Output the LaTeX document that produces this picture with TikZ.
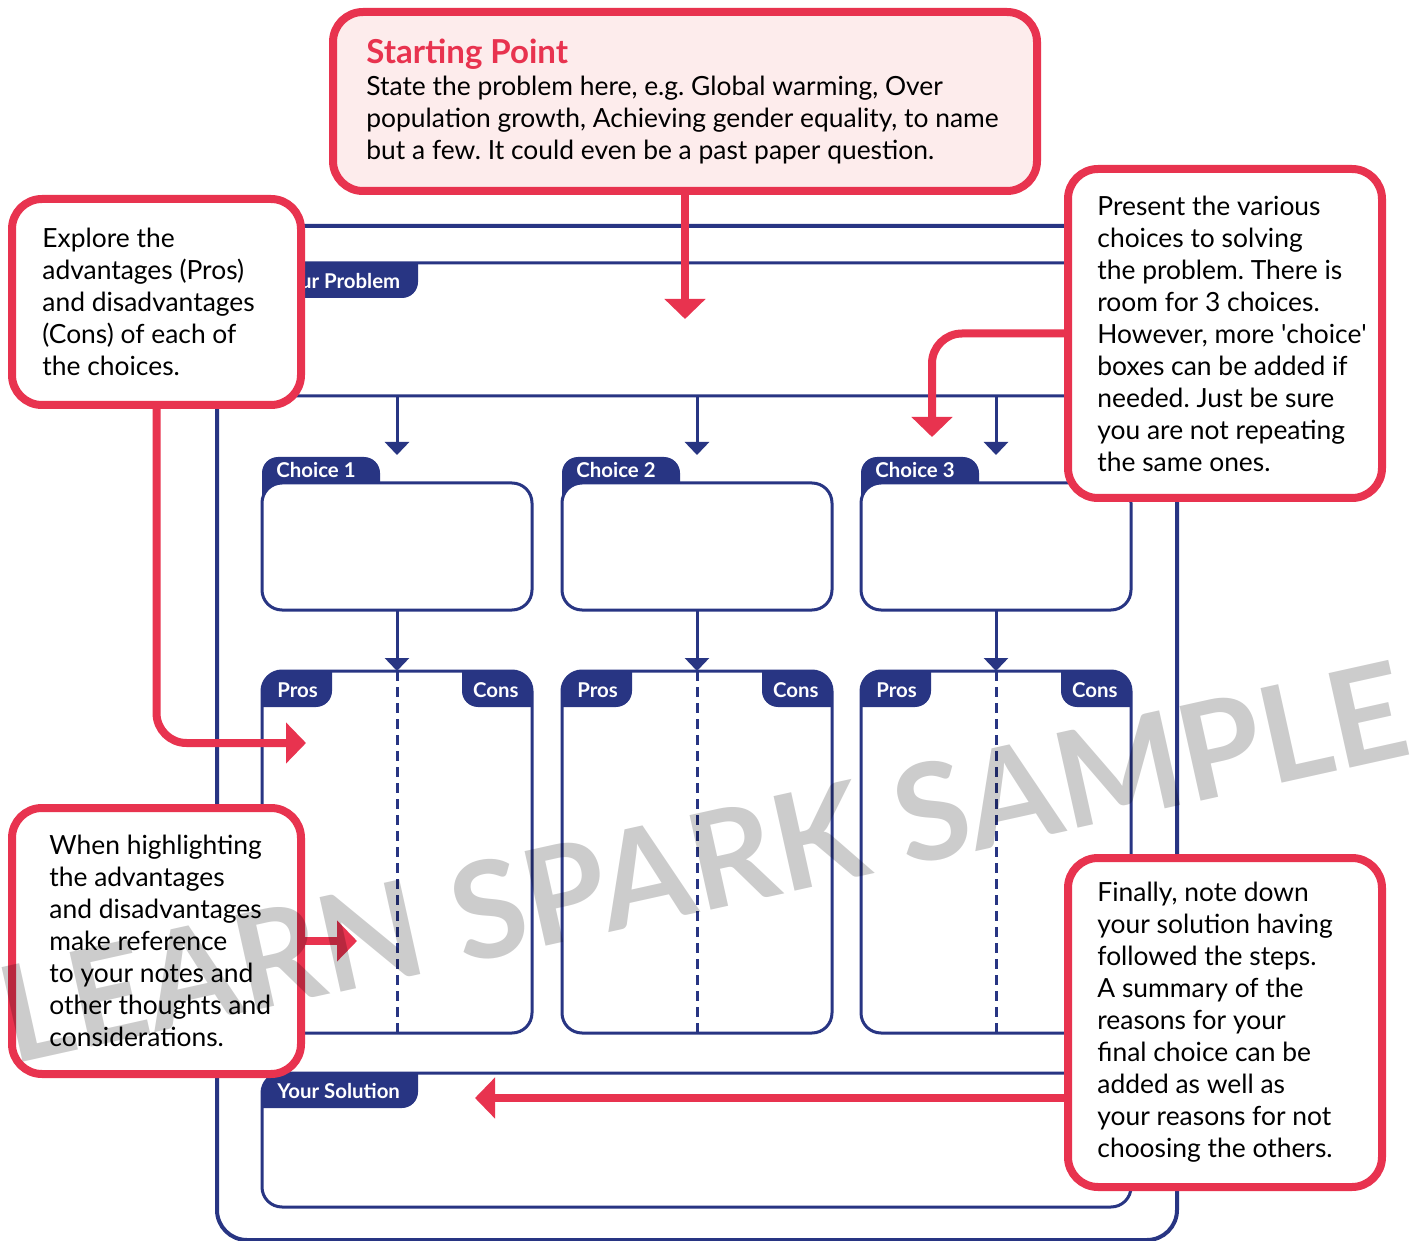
\documentclass[tikz,border=0pt]{standalone}
\usepackage{fontspec}
\setmainfont{Lato}
\usetikzlibrary{arrows.meta,positioning}
\definecolor{navy}{HTML}{283583}
\definecolor{spark}{HTML}{E8334F}
\definecolor{blush}{HTML}{FDECEC}
\frenchspacing

\begin{document}
\begin{tikzpicture}[x=0.5pt, y=-0.5pt,
    box/.style={draw=navy, line width=1.5pt, fill=white, rounded corners=10pt,
                outer sep=0pt, inner sep=0pt},
    tabfill/.style={fill=navy, rounded corners=8pt},
    tablabel/.style={text=white, inner sep=0pt,
                     font=\bfseries\fontsize{10.2}{12}\selectfont},
    callout/.style={draw=spark, line width=4pt, fill=white, rounded corners=15pt,
                    outer sep=0pt, inner sep=0pt},
    note/.style={align=left, inner sep=0pt, font=\fontsize{13.2}{16}\selectfont},
    flow/.style={draw=navy, line width=1.5pt, -{Triangle[length=6.5pt, width=12pt]}},
    pointer/.style={draw=spark, line width=4pt, rounded corners=15pt,
                    -{Triangle[length=10pt, width=20pt]}},
  ]
\useasboundingbox[fill=white] (0,0) rectangle (1410,1241);

% outer frame
\draw[navy, line width=2pt, rounded corners=15pt] (217,226) rectangle (1177,1240);

% problem
\node[box, minimum width=434.5pt, minimum height=66.5pt] (problem) at (696.5,329.5) {};
\begin{scope}
  \clip[rounded corners=10pt] (problem.north west) rectangle (problem.south east);
  \fill[tabfill] (230,240) rectangle (418,298);
\end{scope}
\node[tablabel, anchor=west] at (277,281) {Your Problem};

% choices, pros and cons
\foreach \cx [count=\i] in {397,697,996} {
  \fill[tabfill] (\cx-135,457) rectangle (\cx-17,530);
  \node[box, minimum width=135pt, minimum height=63.5pt] (c\i) at (\cx,546.5) {};
  \node[tablabel, anchor=west] at (\cx-121,470) {Choice \i};
  \coordinate (cin\i) at (\cx,455);
  \draw[flow] (problem.south -| c\i.north) -- (cin\i);
  \node[box, minimum width=135pt, minimum height=181pt] (pc\i) at (\cx,852) {};
  \begin{scope}
    \clip[rounded corners=10pt] (pc\i.north west) rectangle (pc\i.south east);
    \fill[tabfill] (\cx-160,650) rectangle (\cx-65,707);
    \fill[tabfill] (\cx+65,650) rectangle (\cx+160,707);
  \end{scope}
  \node[tablabel, anchor=west] at (\cx-120,690) {Pros};
  \node[tablabel, anchor=east] at (\cx+122,690) {Cons};
  \draw[navy, line width=1.5pt, dash pattern=on 5pt off 3pt] (pc\i.north) -- (pc\i.south);
  \draw[flow] (c\i.south) -- (pc\i.north);
}

% solution
\node[box, minimum width=434.5pt, minimum height=67pt] (solution) at (696.5,1140) {};
\begin{scope}
  \clip[rounded corners=10pt] (solution.north west) rectangle (solution.south east);
  \fill[tabfill] (230,1050) rectangle (418,1108);
\end{scope}
\node[tablabel, anchor=west] at (277,1091) {Your Solution};

% callouts
\node[callout, fill=blush, minimum width=352pt, minimum height=89.5pt] (start) at (685,101.5) {};
\node[note, right=16.5pt of start.west] (starttext)
  {{\color{spark}\bfseries\fontsize{16.5}{16}\selectfont Starting Point}\\
   State the problem here, e.g. Global warming, Over\\
   population growth, Achieving gender equality, to name\\
   but a few. It could even be a past paper question.};

\node[callout, minimum width=144.5pt, minimum height=103pt] (explore) at (156.5,302) {};
\node[note, right=15pt of explore.west] (exploretext)
  {Explore the\\ advantages (Pros)\\ and disadvantages\\ (Cons) of each of\\ the choices.};

\node[callout, minimum width=157pt, minimum height=164.5pt] (present) at (1225,333.5) {};
\node[note, right=14.5pt of present.west] (presenttext)
  {Present the various\\ choices to solving\\ the problem. There is\\ room for 3 choices.\\
   However, more \textquotesingle choice\textquotesingle\\ boxes can be added if\\
   needed. Just be sure\\ you are not repeating\\ the same ones.};

\node[callout, minimum width=144.5pt, minimum height=133pt] (highlight) at (156.5,941) {};
\node[note, right=18.5pt of highlight.west] (highlighttext)
  {When highlighting\\ the advantages\\ and disadvantages\\ make reference\\
   to your notes and\\ other thoughts and\\ considerations.};

\node[callout, minimum width=157pt, minimum height=164.5pt] (finally) at (1225,1022.5) {};
\node[note, right=14.5pt of finally.west] (finallytext)
  {Finally, note down\\ your solution having\\ followed the steps.\\ A summary of the\\
   reasons for your\\ final choice can be\\ added as well as\\
   your reasons for not\\ choosing the others.};

% red pointers
\coordinate (probin) at (685,319);
\coordinate (prosin) at (306,743);
\coordinate (choicein) at (932,437);
\coordinate (notesin) at (357,941);
\coordinate (solin) at (475,1098);
\draw[pointer] (start.south) -- (probin);
\draw[pointer] (explore.south) |- (prosin);
\draw[pointer] (present.west) -| (choicein);
\draw[pointer] (highlight.east) -- (notesin);
\draw[pointer] (finally.west |- solin) -- (solin);

% watermark
\node[rotate=12.5, text=black, opacity=0.2, inner sep=0pt,
      font=\bfseries\fontsize{67}{67}\selectfont] (mark) at (703,862) {LEARN SPARK SAMPLE};

\end{tikzpicture}
\end{document}
